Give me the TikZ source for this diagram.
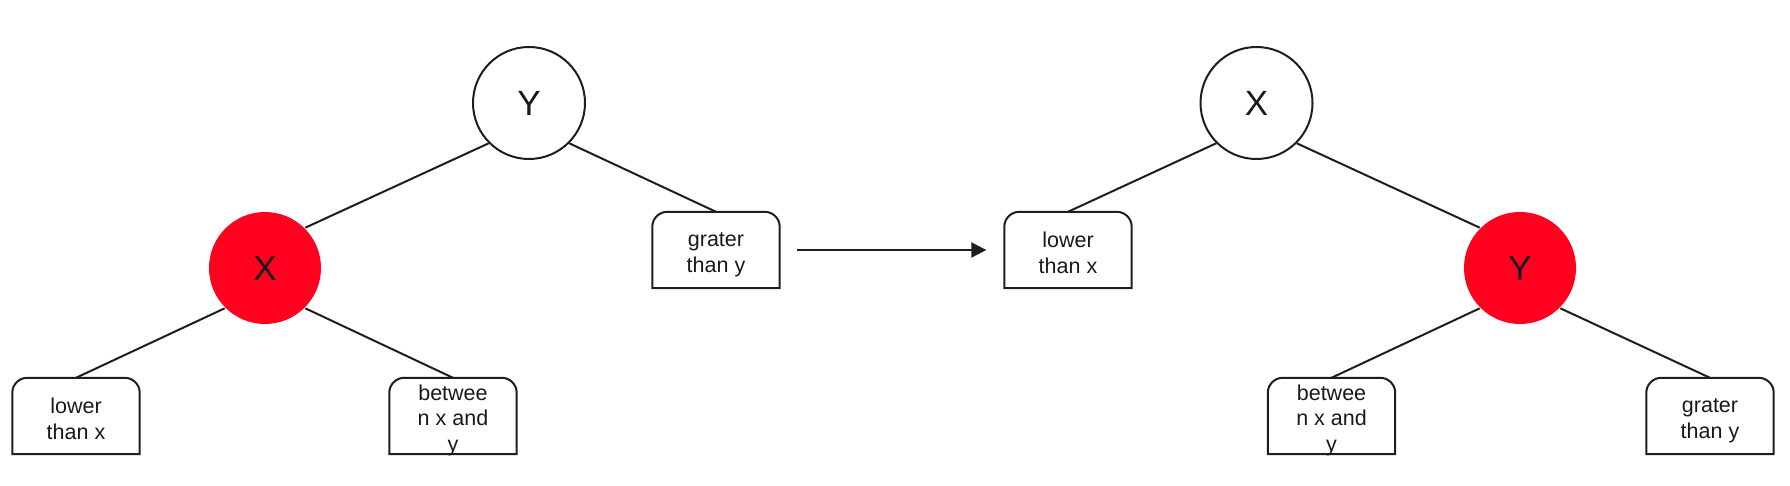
\documentclass[tikz,border=0pt]{standalone}
\usepackage{fontspec}
\setmainfont{Liberation Sans}
\usetikzlibrary{arrows.meta}
\definecolor{nodered}{RGB}{255,0,30}
\definecolor{ink}{RGB}{30,30,30}
\newcommand\toprnd[1]{%
  \draw[boxline] (#1.south west) -- ([yshift=-15pt]#1.north west)
    arc[start angle=180,end angle=90,radius=15pt]
    -- ([xshift=-15pt]#1.north east)
    arc[start angle=90,end angle=0,radius=15pt]
    -- (#1.south east) -- cycle;}
\tikzset{
  treecirc/.style={circle, draw=ink, line width=2pt, minimum size=112pt, inner sep=0pt,
    font=\fontsize{35}{35}\selectfont, text=black!90},
  redcirc/.style={treecirc, fill=nodered, draw=none},
  leafbox/.style={rectangle, minimum width=127pt, minimum height=76pt, inner sep=0pt},
  leaftext/.style={inner sep=0pt, align=center, font=\fontsize{21.5}{25.5}\selectfont, text=black!90},
  boxline/.style={draw=ink, line width=2pt, line join=miter},
  edge/.style={draw=ink, line width=2pt},
}
\begin{document}
\begin{tikzpicture}[x=1pt,y=-1pt]
\useasboundingbox (0,0) rectangle (1790,486);
% left tree
\node[treecirc] (ly) at (529,103) {Y};
\node[redcirc] (lx) at (265,268) {X};
\node[leafbox] (llow) at (76,416) {};
\node[leafbox] (lbet) at (453,416) {};
\node[leafbox] (lgr) at (716,250) {};
\node[leaftext] (llowt) at ([yshift=-3pt]llow.center) {lower\\than x};
\node[leaftext] (lbett) at ([yshift=-4pt]lbet.center) {betwee\\n x and\\y};
\node[leaftext] (lgrt) at ([yshift=-5pt]lgr.center) {grater\\than y};
\toprnd{llow}
\toprnd{lbet}
\toprnd{lgr}
\draw[edge] (ly.-135) -- (lx.45);
\draw[edge] (ly.-45) -- (lgr.north);
\draw[edge] (lx.-135) -- (llow.north);
\draw[edge] (lx.-45) -- (lbet.north);
% right tree
\node[treecirc] (rx) at (1256.5,103) {X};
\node[redcirc] (ry) at (1520,268) {Y};
\node[leafbox] (rlow) at (1068,250) {};
\node[leafbox] (rbet) at (1331.5,416) {};
\node[leafbox] (rgr) at (1710,416) {};
\node[leaftext] (rlowt) at ([yshift=-3pt]rlow.center) {lower\\than x};
\node[leaftext] (rbett) at ([yshift=-4pt]rbet.center) {betwee\\n x and\\y};
\node[leaftext] (rgrt) at ([yshift=-5pt]rgr.center) {grater\\than y};
\toprnd{rlow}
\toprnd{rbet}
\toprnd{rgr}
\draw[edge] (rx.-135) -- (rlow.north);
\draw[edge] (rx.-45) -- (ry.135);
\draw[edge] (ry.-135) -- (rbet.north);
\draw[edge] (ry.-45) -- (rgr.north);
% transformation arrow
\coordinate (as) at ([xshift=17pt]lgr.east);
\coordinate (ae) at ([xshift=-18pt]rlow.west);
\draw[edge, -{Triangle[length=15pt,width=15pt]}] (as) -- (ae);
\end{tikzpicture}
\end{document}
